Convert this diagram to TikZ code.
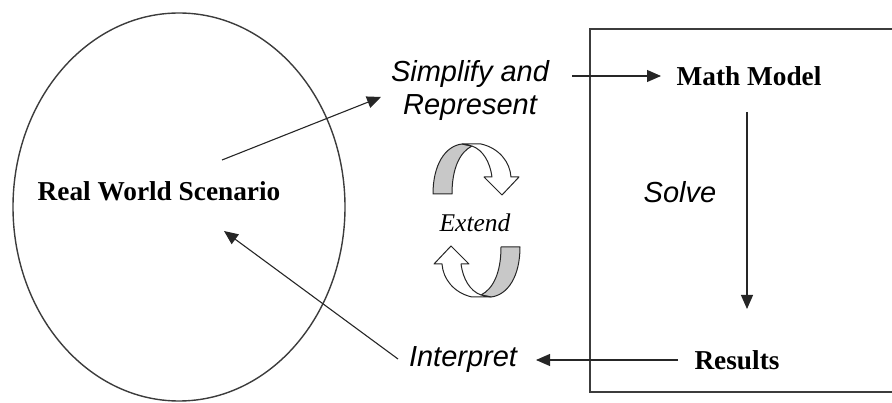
\documentclass[tikz,border=0pt]{standalone}
\usepackage{fontspec}
\setmainfont{Liberation Serif}
\newfontfamily\sansit{Liberation Sans}
\usetikzlibrary{arrows.meta, positioning}
\definecolor{linegray}{RGB}{60, 60, 60}
\definecolor{ribbongray}{RGB}{200, 200, 200}

% one curled ribbon arrow, drawn in pixel coordinates
\newcommand{\curlribbon}{%
  \filldraw[ribbon, fill=ribbongray] (433,194) -- (452,194)
    .. controls (452,168) and (460,152) .. (472,146) -- (462,144)
    .. controls (445,146) and (433,165) .. (433,194) -- cycle;
  \filldraw[ribbon, fill=white] (462,144) -- (481,144)
    .. controls (499,148) and (510,162) .. (511,177) -- (519,177)
    -- (502,195) -- (484,177) -- (492,177)
    .. controls (490,162) and (483,150) .. (472,146) -- cycle;
}

\begin{document}
\begin{tikzpicture}[x=1pt, y=-1pt,
    frame/.style={draw=linegray, line width=1.4pt},
    ribbon/.style={draw=black!85, line width=1pt, line join=round},
    flow/.style={draw=black!85, line width=1.1pt, -{Triangle[length=14pt, width=12pt]}},
    bold label/.style={font=\fontsize{27.3}{31}\selectfont\bfseries, inner sep=0pt},
    step label/.style={font=\fontsize{29}{33}\selectfont\sansit\itshape, inner sep=0pt, align=center}]
  \useasboundingbox (0,0) rectangle (892,403);

  \draw[frame] (179,207) ellipse [x radius=166, y radius=194];
  \draw[frame] (892,29) -- (590,29) -- (590,392) -- (892,392);

  \node[bold label] (world) at (159,191) {Real World Scenario};
  \node[bold label] (model) at (749,76) {Math Model};
  \node[bold label] (results) at (737,360) {Results};

  \node[step label] (simplify) at (470,91) {Simplify and\\Represent};
  \node[step label] (solve) at (680,192) {Solve};
  \node[step label] (interpret) at (463,360) {Interpret};
  \node[font=\fontsize{25.5}{30}\selectfont\itshape, inner sep=0pt] (extend) at (475,223) {Extend};

  \coordinate (worldout) at (222,160);
  \coordinate (simpin) at (381,97);
  \coordinate (simpout) at (572,76);
  \coordinate (modelin) at (661,76);
  \coordinate (modelout) at (747,112);
  \coordinate (resultsin) at (747,309);
  \coordinate (resultsout) at (678,360);
  \coordinate (interpin) at (536,360);
  \coordinate (interpout) at (398,359);
  \coordinate (worldin) at (224,231);

  \draw[flow] (worldout) -- (simpin);
  \draw[flow] (simpout) -- (modelin);
  \draw[flow] (modelout) -- (resultsin);
  \draw[flow] (resultsout) -- (interpin);
  \draw[flow] (interpout) -- (worldin);

  \curlribbon
  \begin{scope}[rotate around={180:(476.5,220.5)}]
    \curlribbon
  \end{scope}
\end{tikzpicture}
\end{document}
